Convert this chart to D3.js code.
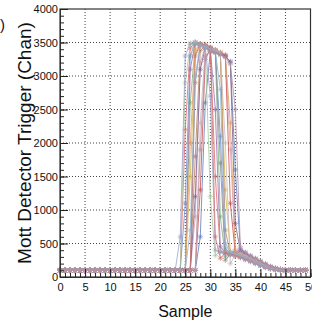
<!DOCTYPE html>
<html>
<head>
<meta charset="utf-8">
<script src="https://cdn.jsdelivr.net/npm/d3@7"></script>
<style>
body{margin:0;background:#fff;}
svg{display:block;font-family:"Liberation Sans",Arial,sans-serif;}
</style>
</head>
<body>
<svg id="chart" width="312" height="328"></svg>
<script>
// sample index on x
var samples = d3.range(50);

// one waveform per trigger, values in channels
var s1 = [101,99,100,102,100,98,101,100,99,100,
  102,100,101,99,100,100,98,101,100,102,
  99,100,101,100,99,2200,3420,3490,3470,3450,
  3400,1500,380,360,340,320,300,270,240,210,
  180,150,130,115,105,100,101,99,100,100];
var s2 = [100,102,99,100,101,98,100,103,100,99,
  101,100,98,100,102,101,99,100,100,97,
  101,100,102,99,100,1100,3300,3500,3460,3430,
  3410,3380,2100,420,360,330,310,280,250,220,
  190,160,135,118,106,102,100,99,101,100];
var s3 = [99,100,101,100,98,102,100,99,101,100,
  100,98,101,102,99,100,100,101,99,100,
  102,100,99,101,100,98,2600,3470,3480,3420,
  3400,3360,900,300,350,340,310,280,260,225,
  190,160,135,115,104,100,101,100,99,100];
var s4 = [100,101,99,100,102,100,98,100,101,99,
  100,102,100,99,101,100,98,100,102,100,
  99,101,100,100,98,101,1500,3350,3460,3450,
  3420,3390,3340,1300,380,360,330,300,270,235,
  200,165,140,120,108,102,100,99,100,101];
var s5 = [102,100,99,101,100,100,98,101,100,102,
  99,100,101,100,99,98,100,102,101,100,
  100,99,101,100,102,100,3100,3500,3480,3440,
  3410,2500,450,370,350,320,300,275,245,215,
  180,150,128,112,104,100,100,101,99,100];
var s6 = [98,100,101,100,99,102,100,101,99,100,
  100,101,99,100,98,100,102,100,101,99,
  100,100,98,101,100,102,99,1800,3380,3450,
  3420,3380,3350,700,330,380,350,310,280,245,
  205,170,140,120,107,102,100,99,100,100];
var s7 = [101,100,99,100,102,100,101,98,100,99,
  101,100,100,102,99,100,101,100,98,101,
  100,99,100,102,100,101,100,900,3200,3440,
  3410,3370,3340,3310,1900,400,360,320,290,255,
  215,175,145,122,108,102,100,100,99,101];
var s8 = [100,99,101,100,100,102,99,100,101,98,
  100,101,100,99,102,100,100,98,101,100,
  99,101,100,100,102,99,100,2900,3460,3470,
  3430,3390,1700,250,340,360,330,300,265,230,
  195,160,135,116,105,101,100,100,99,100];
var s9 = [100,100,102,99,101,100,98,100,101,100,
  99,100,102,101,100,99,100,101,98,100,
  101,100,99,100,102,100,101,99,1300,3250,
  3400,3370,3340,3300,1100,340,370,330,295,260,
  220,180,148,125,110,103,100,101,100,99];
var s10 = [99,101,100,100,98,101,100,102,100,99,
  100,101,99,100,100,102,98,100,101,100,
  100,99,101,100,99,102,100,100,600,2600,
  3360,3350,3320,3290,3220,1600,420,360,310,270,
  230,190,155,128,112,104,100,100,99,100];
var s11 = [101,100,100,99,102,100,101,100,98,100,
  99,101,100,102,100,99,100,101,100,98,
  100,102,99,100,101,2900,3470,3510,3480,3440,
  1200,320,390,370,350,325,300,270,240,205,
  175,145,125,110,103,100,100,99,101,100];
var s12 = [100,98,101,100,99,100,102,100,101,99,
  100,100,101,98,100,102,99,100,100,101,
  99,100,102,100,101,99,2000,3400,3470,3440,
  3410,3380,3350,3320,2300,380,350,315,285,250,
  210,172,142,121,108,102,100,100,101,99];
var s13 = [102,100,100,99,101,100,98,101,100,100,
  99,102,100,101,100,98,100,99,101,100,
  100,101,99,100,102,100,100,1200,3100,3420,
  3400,3360,3330,3300,3200,800,390,350,305,265,
  225,185,150,126,111,103,100,99,100,100];
var s14 = [100,101,99,100,100,102,100,98,101,100,
  101,99,100,100,102,100,99,101,100,98,
  100,100,101,99,100,102,100,101,2300,3430,
  3410,3380,3350,2000,200,330,355,320,285,250,
  210,172,142,120,107,101,100,100,99,100];
var s15 = [99,100,101,100,102,100,99,100,101,98,
  100,101,100,99,100,102,101,100,98,100,
  101,100,99,100,600,3300,3490,3480,3450,3420,
  2700,400,370,355,335,315,290,260,230,200,
  170,142,122,108,102,100,100,101,100,99];
var s16 = [100,102,100,99,101,100,100,98,102,100,
  99,100,101,100,98,101,100,102,99,100,
  101,100,100,99,101,100,98,3300,3480,3450,
  3420,600,280,360,345,325,300,272,242,210,
  178,148,126,111,103,100,100,99,100,101];
var s17 = [101,99,100,100,102,98,100,101,100,99,
  100,102,101,100,99,100,98,100,101,102,
  100,99,100,101,100,100,700,3000,3460,3440,
  3400,3370,2800,500,370,345,320,290,258,222,
  188,155,130,114,104,100,101,100,100,99];
var s18 = [100,100,99,102,100,101,100,99,98,101,
  100,100,102,99,101,100,100,98,100,101,
  99,102,100,100,101,99,100,100,1900,3300,
  3380,3350,3330,3280,3180,2500,450,370,320,280,
  240,198,160,132,114,105,101,100,100,99];

var series = [s1,s2,s3,s4,s5,s6,s7,s8,s9,s10,s11,s12,s13,s14,s15,s16,s17,s18];
var colors = ["#e06666","#6a8fd0","#7fb27f","#d4b84a","#9a6fae","#b08060",
  "#d9a0b8","#8c8c8c","#c94c4c","#5c7cba","#a8c8a0","#e0a060",
  "#7a6090","#c8b8b8","#a0a0c8","#d07070","#90b0d0","#b890a0"];

var xMajor = [0,5,10,15,20,25,30,35,40,45,50],
    xMinor = d3.range(0,51,1),
    yMajor = [0,500,1000,1500,2000,2500,3000,3500,4000],
    yMinor = d3.range(0,4001,100);

var svg = d3.select("#chart"),
    margin = {top: 9, right: 1.5, bottom: 51, left: 60},
    width = +svg.attr("width") - margin.left - margin.right,
    height = +svg.attr("height") - margin.top - margin.bottom;

var x = d3.scaleLinear().domain([0,50]).range([0,width]),
    y = d3.scaleLinear().domain([0,4000]).range([height,0]);

var g = svg.append("g")
    .attr("transform", "translate(" + margin.left + "," + margin.top + ")");

//dotted grid at the major ticks
g.append("g").selectAll("line").data(xMajor.slice(1,-1)).enter()
    .append("line")
    .attr("x1", function(d){return x(d);}).attr("x2", function(d){return x(d);})
    .attr("y1", 0).attr("y2", height)
    .attr("stroke","#444").attr("stroke-dasharray","1,2");
g.append("g").selectAll("line").data(yMajor.slice(1,-1)).enter()
    .append("line")
    .attr("y1", function(d){return y(d);}).attr("y2", function(d){return y(d);})
    .attr("x1", 0).attr("x2", width)
    .attr("stroke","#444").attr("stroke-dasharray","1,2");

var line = d3.line()
    .x(function(d,i){return x(samples[i]);})
    .y(function(d){return y(d);});

// ROOT style "*" marker
var r = 2.8, q = r*0.7071;
var star = "M" + (-r) + ",0H" + r + "M0," + (-r) + "V" + r +
    "M" + (-q) + "," + (-q) + "L" + q + "," + q +
    "M" + (-q) + "," + q + "L" + q + "," + (-q);

var traces = g.append("g").selectAll("g").data(series).enter().append("g")
    .attr("stroke", function(d,i){return colors[i];})
    .attr("fill","none");

traces.append("path")
    .attr("d", line)
    .attr("stroke-width", 1)
    .attr("stroke-opacity", 0.8);

traces.selectAll(".mk").data(function(d){return d;}).enter()
    .append("path")
    .attr("class","mk")
    .attr("transform", function(d,i){return "translate(" + x(samples[i]) + "," + y(d) + ")";})
    .attr("d", star)
    .attr("stroke-width", 0.7)
    .attr("stroke-opacity", 0.8);

//frame
g.append("rect")
    .attr("width", width).attr("height", height)
    .attr("fill","none").attr("stroke","#333").attr("stroke-width",1.2);

//axes, ticks pointing into the frame
g.append("g").attr("transform","translate(0," + height + ")")
    .call(d3.axisBottom(x).tickValues(xMajor).tickSizeInner(-8).tickSizeOuter(0)
      .tickPadding(6).tickFormat(d3.format("d")));
g.append("g").attr("transform","translate(0," + height + ")")
    .call(d3.axisBottom(x).tickValues(xMinor).tickSizeInner(-4).tickSizeOuter(0).tickFormat(""));
g.append("g")
    .call(d3.axisLeft(y).tickValues(yMajor).tickSizeInner(-8).tickSizeOuter(0)
      .tickPadding(2).tickFormat(d3.format("d")));
g.append("g")
    .call(d3.axisLeft(y).tickValues(yMinor).tickSizeInner(-4).tickSizeOuter(0).tickFormat(""));

g.selectAll(".domain").attr("stroke","#333");
g.selectAll(".tick line").attr("stroke","#222");
g.selectAll(".tick text").attr("font-size", 11).attr("fill","#111")
    .attr("font-family","'Liberation Sans', Arial, sans-serif");

//titles
svg.append("text")
    .attr("x", margin.left + width/2).attr("y", 317)
    .attr("text-anchor","middle").attr("font-size",16).attr("fill","#111")
    .text("Sample");
svg.append("text")
    .attr("transform","translate(31," + (margin.top + height/2) + ") rotate(-90)")
    .attr("text-anchor","middle").attr("font-size",19).attr("fill","#111")
    .text("Mott Detector Trigger (Chan)");
svg.append("text")
    .attr("x", 5).attr("y", 30)
    .attr("text-anchor","end").attr("font-size",15).attr("fill","#111")
    .text("(b)");
</script>
</body>
</html>
